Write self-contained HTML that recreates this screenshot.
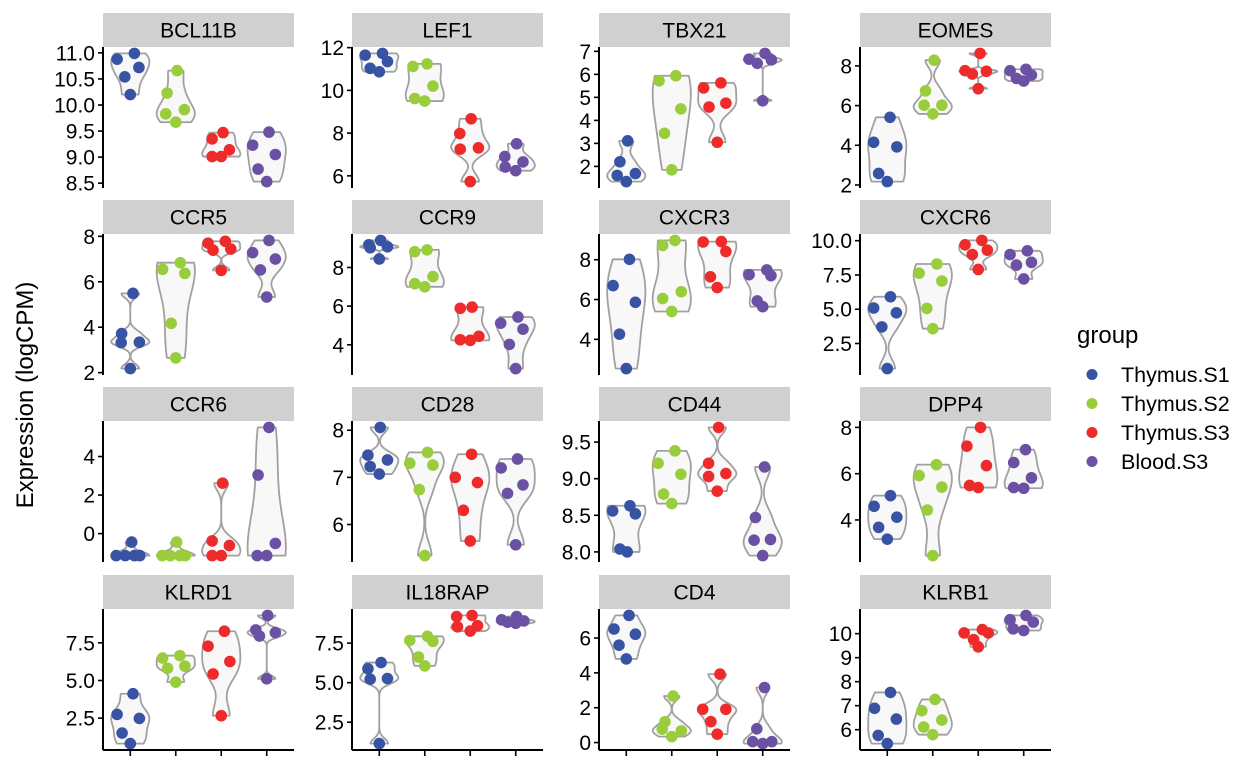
<!DOCTYPE html>
<html><head><meta charset="utf-8"><style>
html,body{margin:0;padding:0;background:#fff;}
svg{display:block;font-family:"Liberation Sans",Arial,sans-serif;}
</style></head><body>
<svg id="chart" width="1248" height="768" viewBox="0 0 1248 768" xmlns="http://www.w3.org/2000/svg">
<text x="0" y="0" transform="translate(33,395) rotate(-90)" text-anchor="middle" font-size="24">Expression (logCPM)</text>
<g>
<text x="1077" y="343" font-size="24">group</text>
<circle cx="1092" cy="374.5" r="5.5" fill="#3953a4"/>
<text x="1121" y="382" font-size="21.5">Thymus.S1</text>
<circle cx="1092" cy="403.5" r="5.5" fill="#9acd3c"/>
<text x="1121" y="411" font-size="21.5">Thymus.S2</text>
<circle cx="1092" cy="432.5" r="5.5" fill="#ee2a2b"/>
<text x="1121" y="440" font-size="21.5">Thymus.S3</text>
<circle cx="1092" cy="461.5" r="5.5" fill="#6a51a3"/>
<text x="1121" y="469" font-size="21.5">Blood.S3</text>
</g>
</svg>
<script>
const genes = ["BCL11B","LEF1","TBX21","EOMES","CCR5","CCR9","CXCR3","CXCR6","CCR6","CD28","CD44","DPP4","KLRD1","IL18RAP","CD4","KLRB1"];
const groups = ["Thymus.S1","Thymus.S2","Thymus.S3","Blood.S3"];
const groupColors = ["#3953a4","#9acd3c","#ee2a2b","#6a51a3"];
const values = [
 [[10.88,10.99,10.72,10.54,10.2],[10.66,10.23,9.91,9.83,9.67],[9.35,9.47,9.14,9.01,9.01],[9.23,9.48,9.05,8.77,8.53]],
 [[11.65,11.73,11.35,11.03,10.87],[11.12,11.24,10.2,9.62,9.5],[7.98,8.67,7.31,7.25,5.73],[6.9,7.5,6.65,6.41,6.24]],
 [[3.11,2.2,1.69,1.61,1.34],[5.72,5.94,4.5,3.44,1.85],[5.41,5.63,4.75,4.58,3.05],[6.66,6.91,6.63,6.48,4.85]],
 [[4.15,5.41,3.92,2.58,2.17],[8.29,6.74,6.02,6.02,5.58],[8.63,7.76,7.59,7.73,6.85],[7.76,7.83,7.54,7.37,7.24]],
 [[5.49,3.72,3.32,3.34,2.18],[6.55,6.84,6.37,4.17,2.65],[7.7,7.78,7.44,7.39,6.5],[7.28,7.82,7.0,6.52,5.33]],
 [[9.17,9.4,9.07,9.02,8.44],[8.82,8.91,7.53,7.16,7.0],[5.89,5.95,4.44,4.26,4.23],[5.12,5.44,4.81,4.02,2.77]],
 [[6.7,8.02,5.86,4.26,2.53],[8.72,8.97,6.39,6.05,5.4],[8.89,8.91,8.41,7.14,6.6],[7.25,7.49,7.2,5.93,5.64]],
 [[5.09,5.91,4.74,3.71,0.67],[7.63,8.3,7.06,5.06,3.58],[9.7,10.02,9.31,8.99,7.9],[8.99,9.26,8.42,8.22,7.21]],
 [[-1.14,-1.14,-1.14,-1.14,-0.44],[-1.14,-1.14,-1.14,-1.14,-0.44],[-0.38,2.62,-0.62,-1.14,-1.14],[3.04,5.51,-0.51,-1.14,-1.14]],
 [[7.47,8.06,7.37,7.23,7.07],[7.3,7.53,7.26,6.74,5.34],[7.0,7.49,6.89,6.3,5.65],[7.2,7.39,6.84,6.66,5.57]],
 [[8.56,8.63,8.52,8.04,8.0],[9.21,9.38,9.06,8.79,8.66],[9.7,9.21,9.07,9.03,8.83],[9.16,8.47,8.16,8.17,7.95]],
 [[4.59,5.05,4.12,3.68,3.17],[5.92,6.39,5.42,4.43,2.46],[7.19,8.0,6.35,5.49,5.4],[6.48,7.04,5.82,5.4,5.37]],
 [[2.75,4.12,2.48,1.51,0.81],[6.49,6.65,5.95,5.81,4.89],[7.28,8.27,6.26,5.43,2.66],[8.36,9.32,8.18,7.95,5.11]],
 [[5.88,6.27,5.26,5.22,1.15],[7.67,7.93,7.61,6.62,6.06],[9.18,9.25,8.6,8.53,8.26],[8.97,9.18,8.9,8.82,8.75]],
 [[6.52,7.3,6.22,5.59,4.8],[1.19,2.67,0.67,0.77,0.34],[1.91,3.93,1.91,1.2,0.48],[0.79,3.16,0.05,0.05,-0.06]],
 [[6.89,7.55,6.44,5.76,5.42],[6.79,7.26,6.4,6.11,5.79],[10.03,10.17,10.03,9.75,9.45],[10.58,10.76,10.48,10.2,10.13]]
];
const jitter = [
 [[-0.29,0.09,0.19,-0.12,0],[0.03,-0.19,0.19,-0.22,0],[-0.2,0.04,0.18,-0.2,0],[-0.31,0.05,0.19,-0.19,0]],
 [[-0.31,0.07,0.18,-0.2,0],[-0.26,0.05,0.18,-0.22,0],[-0.23,0.02,0.18,-0.22,0],[-0.24,0.02,0.16,-0.23,0]],
 [[0.03,-0.14,0.2,-0.2,0],[-0.28,0.09,0.2,-0.16,0],[-0.3,0.08,0.19,-0.18,0],[-0.3,0.05,0.19,-0.12,0]],
 [[-0.3,0.06,0.21,-0.19,0],[0.03,-0.16,0.2,-0.19,0],[0.04,-0.29,-0.13,0.18,0],[-0.3,0.05,0.17,-0.16,0]],
 [[0.06,-0.19,-0.2,0.2,0],[-0.29,0.1,0.2,-0.1,0],[-0.29,0.09,0.21,-0.18,0],[-0.31,0.05,0.19,-0.14,0]],
 [[-0.23,0.03,0.18,-0.2,0],[-0.22,0.05,0.18,-0.22,0],[-0.22,0.04,0.19,-0.22,0],[-0.33,0.05,0.16,-0.14,0]],
 [[-0.29,0.07,0.2,-0.15,0],[-0.2,0.07,0.21,-0.2,0],[-0.31,0.09,0.19,-0.15,0],[-0.3,0.09,0.18,-0.12,0]],
 [[-0.3,0.07,0.2,-0.12,0],[-0.3,0.09,0.2,-0.13,0],[-0.29,0.08,0.2,-0.13,0],[-0.3,0.08,0.17,-0.16,0]],
 [[-0.31,-0.11,0.09,0.21,0.03],[-0.3,-0.12,0.09,0.21,0.02],[-0.2,0.03,0.18,-0.2,0],[-0.19,0.05,0.19,-0.21,0]],
 [[-0.25,0.02,0.18,-0.2,0],[-0.33,0.06,0.18,-0.12,0],[-0.33,0.03,0.16,-0.15,0],[-0.32,0.04,0.16,-0.18,0]],
 [[-0.3,0.08,0.2,-0.14,0.02],[-0.3,0.07,0.2,-0.18,0],[0.03,-0.19,0.19,-0.19,0],[0.04,-0.16,-0.19,0.17,0]],
 [[-0.29,0.07,0.21,-0.19,0],[-0.3,0.08,0.2,-0.12,0],[-0.25,0.05,0.18,-0.19,0],[-0.22,0.04,0.17,-0.22,0]],
 [[-0.29,0.06,0.2,-0.18,0],[-0.29,0.09,0.2,-0.18,0],[-0.29,0.07,0.19,-0.18,0],[-0.24,0.02,0.19,-0.16,0]],
 [[-0.25,0.04,0.18,-0.2,0],[-0.33,0.06,0.18,-0.14,0],[-0.3,0.04,0.16,-0.28,0],[-0.31,0.02,0.18,-0.18,0]],
 [[-0.27,0.06,0.2,-0.16,0],[-0.15,0.03,0.21,-0.21,0],[-0.32,0.06,0.19,-0.14,0],[-0.13,0.04,0.2,-0.22,0]],
 [[-0.28,0.07,0.2,-0.2,0],[-0.24,0.05,0.2,-0.2,0],[-0.31,0.09,0.22,-0.1,0],[-0.3,0.05,0.21,-0.23,0]]
];
const tickLabels = [
 ["8.5","9.0","9.5","10.0","10.5","11.0"],["6","8","10","12"],["2","3","4","5","6","7"],["2","4","6","8"],
 ["2","4","6","8"],["4","6","8"],["4","6","8"],["2.5","5.0","7.5","10.0"],
 ["0","2","4"],["6","7","8"],["8.0","8.5","9.0","9.5"],["4","6","8"],
 ["2.5","5.0","7.5"],["2.5","5.0","7.5"],["0","2","4","6"],["6","7","8","9","10"]
];

const NS = "http://www.w3.org/2000/svg";
const svg = document.getElementById("chart");
const colX = [103,352,599,860];
const rowTop = [13,200,387,575];
const PW = 191, STRIP = 34, PH = 141;
function mk(tag, attrs, parent){
  const e = document.createElementNS(NS, tag);
  for (const k in attrs) e.setAttribute(k, attrs[k]);
  (parent||svg).appendChild(e);
  return e;
}
function quantile(s, p){ const h=(s.length-1)*p, lo=Math.floor(h); return s[lo]+(h-lo)*((s[Math.min(lo+1,s.length-1)])-s[lo]); }
function bwNrd0(v){
  const n=v.length, m=v.reduce((a,b)=>a+b,0)/n;
  const sd=Math.sqrt(v.reduce((a,b)=>a+(b-m)*(b-m),0)/(n-1));
  const s=[...v].sort((a,b)=>a-b);
  const iqr=quantile(s,0.75)-quantile(s,0.25);
  let lo=Math.min(sd, iqr/1.34);
  if(!(lo>0)) lo = sd>0 ? sd : (Math.abs(s[0])||1);
  return 0.9*lo*Math.pow(n,-0.2);
}
function density(v){
  const bw=bwNrd0(v), mn=Math.min(...v), mx=Math.max(...v), N=256, out=[];
  for(let i=0;i<N;i++){
    const y = mn+(mx-mn)*i/(N-1);
    let d=0; for(const x of v){const z=(y-x)/bw; d+=Math.exp(-0.5*z*z);}
    out.push([y, d/(v.length*bw*Math.sqrt(2*Math.PI))]);
  }
  return out;
}

genes.forEach((gene, gi) => {
  const col = gi%4, row = Math.floor(gi/4);
  const x0 = colX[col], top = rowTop[row], pTop = top+STRIP;
  const g = mk("g", {});
  
  
  const strip = mk("rect", {x:x0, y:top, width:PW, height:STRIP, fill:"#d0d0d0"}, g);
  
  
  const st = mk("text", {x:x0+PW/2, y:top+STRIP/2+7.5, "text-anchor":"middle", "font-size":"21"}, g);
  st.textContent = gene;
  
  

  const all = values[gi].flat();
  const dmin = Math.min(...all), dmax = Math.max(...all), pad = (dmax-dmin)*0.05;
  const lo = dmin-pad, hi = dmax+pad;
  const yS = v => pTop + (hi - v)/(hi-lo)*PH;
  const step = PW/4.2;
  const xS = k => x0 + (k+0.6)*step;

  // violins (scale = "width": each violin reaches the same max width)
  const dens = values[gi].map(v => density(v));
  dens.forEach((d, k) => {
    const maxD = Math.max(...d.map(p=>p[1]));
    const cx = xS(k);
    let right = d.map(p => (cx + p[1]/maxD*0.42*step).toFixed(2)+","+yS(p[0]).toFixed(2));
    let left = d.slice().reverse().map(p => (cx - p[1]/maxD*0.42*step).toFixed(2)+","+yS(p[0]).toFixed(2));
    const vp = mk("polygon", {points: right.concat(left).join(" "), fill:"#f8f8f8", stroke:"#a0a0a0", "stroke-width":"1.8", "stroke-linejoin":"round"}, g);
    
    
  });
  // points
  values[gi].forEach((vals, k) => {
    vals.forEach((v, j) => {
      const c = mk("circle", {cx:(xS(k)+jitter[gi][k][j]*step).toFixed(2), cy:yS(v).toFixed(2), r:"5.8", fill:groupColors[k]}, g);
      
      
    });
  });
  // y axis
  const ax = mk("line", {x1:x0, y1:pTop, x2:x0, y2:pTop+PH, stroke:"#000", "stroke-width":"2"}, g);
  
  
  tickLabels[gi].forEach(t => {
    const y = yS(parseFloat(t));
    const tk = mk("line", {x1:x0-5, y1:y, x2:x0, y2:y, stroke:"#000", "stroke-width":"1.6"}, g);
    
    
    const tl = mk("text", {x:x0-8, y:y+7.5, "text-anchor":"end", "font-size":"21"}, g);
    tl.textContent = t;
    
    
  });
  if (row === 3) {
    const bx = mk("line", {x1:x0, y1:pTop+PH, x2:x0+PW, y2:pTop+PH, stroke:"#000", "stroke-width":"2"}, g);
    
    
    groups.forEach((gr, k) => {
      const xt = mk("line", {x1:xS(k), y1:pTop+PH, x2:xS(k), y2:pTop+PH+6, stroke:"#000", "stroke-width":"1.6"}, g);
      
      
    });
  }
});
</script>
</body></html>
